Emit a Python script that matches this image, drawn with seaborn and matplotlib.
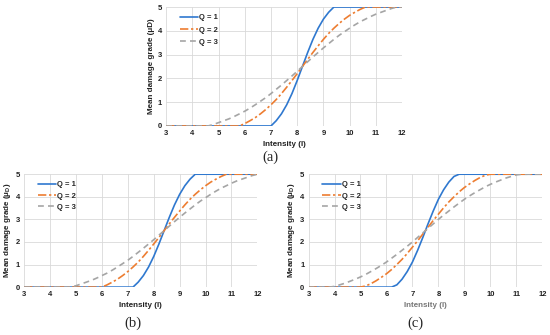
import numpy as np
import pandas as pd
import matplotlib
matplotlib.use("Agg")
import matplotlib.pyplot as plt
import seaborn as sns

# intensity grid (I) shared by all three panels
intensity = np.round(np.arange(3.0, 12.01, 0.2), 1)
q_labels = ['Q = 1', 'Q = 2', 'Q = 3']

# (a) mean damage grade
a_q1 = [0] * 21 + [0.22, 0.51, 0.89, 1.36, 1.91, 2.50, 3.09, 3.64, 4.11, 4.49, 4.78] + [5] * 14
a_q2 = [0] * 15 + [0.10, 0.22, 0.35, 0.51, 0.69, 0.89, 1.11, 1.36, 1.63, 1.91, 2.20, 2.50,
                   2.80, 3.09, 3.37, 3.64, 3.89, 4.11, 4.31, 4.49, 4.65, 4.78, 4.90] + [5] * 8
a_q3 = [0] * 9 + [0.06, 0.14, 0.22, 0.30, 0.40, 0.51, 0.62, 0.75, 0.89, 1.04, 1.19, 1.36,
                  1.54, 1.72, 1.91, 2.10, 2.30, 2.50, 2.70, 2.90, 3.09, 3.28, 3.46, 3.64,
                  3.81, 3.96, 4.11, 4.25, 4.38, 4.49, 4.60, 4.70, 4.78, 4.86, 4.94] + [5] * 2

# (b) bottom left
b_q1 = [0] * 22 + [0.22, 0.51, 0.89, 1.36, 1.91, 2.50, 3.09, 3.64, 4.11, 4.49, 4.78] + [5] * 13
b_q2 = [0] * 16 + [0.10, 0.22, 0.35, 0.51, 0.69, 0.89, 1.11, 1.36, 1.63, 1.91, 2.20, 2.50,
                   2.80, 3.09, 3.37, 3.64, 3.89, 4.11, 4.31, 4.49, 4.65, 4.78, 4.90] + [5] * 7
b_q3 = [0] * 10 + [0.06, 0.14, 0.22, 0.30, 0.40, 0.51, 0.62, 0.75, 0.89, 1.04, 1.19, 1.36,
                   1.54, 1.72, 1.91, 2.10, 2.30, 2.50, 2.70, 2.90, 3.09, 3.28, 3.46, 3.64,
                   3.81, 3.96, 4.11, 4.25, 4.38, 4.49, 4.60, 4.70, 4.78, 4.86, 4.94] + [5] * 1

# (c) bottom right
c_q1 = [0] * 17 + [0.10, 0.35, 0.69, 1.11, 1.63, 2.20, 2.80, 3.37, 3.89, 4.31, 4.65, 4.90] + [5] * 17
c_q2 = [0] * 11 + [0.05, 0.15, 0.28, 0.43, 0.59, 0.78, 1.00, 1.23, 1.49, 1.77, 2.05, 2.35,
                   2.65, 2.95, 3.23, 3.51, 3.77, 4.00, 4.22, 4.41, 4.57, 4.72, 4.85, 4.95] + [5] * 11
c_q3 = [0] * 5 + [0.03, 0.10, 0.17, 0.26, 0.35, 0.45, 0.56, 0.69, 0.82, 0.96, 1.11, 1.28,
                  1.45, 1.63, 1.81, 2.00, 2.20, 2.40, 2.60, 2.80, 3.00, 3.19, 3.37, 3.55,
                  3.72, 3.89, 4.04, 4.18, 4.31, 4.44, 4.55, 4.65, 4.74, 4.83, 4.90, 4.97] + [5] * 5

panels = [
    ('(a)', [a_q1, a_q2, a_q3], 'Mean damage grade (μD)', [0.302, 0.624, 0.429, 0.355], (0.491, 0.531), 0.65),
    ('(b)', [b_q1, b_q2, b_q3], 'Mean damage grade (μ$_\\mathregular{D}$)', [0.044, 0.143, 0.424, 0.337], (0.242, 0.036), 0.5),
    ('(c)', [c_q1, c_q2, c_q3], 'Mean damage grade (μ$_\\mathregular{D}$)', [0.561, 0.143, 0.425, 0.337], (0.755, 0.036), 0.5),
]

palette = {'Q = 1': '#2F78CF', 'Q = 2': '#ED7D31', 'Q = 3': '#A5A5A5'}
dashes = {'Q = 1': '', 'Q = 2': (5, 1.6, 1.4, 1.6), 'Q = 3': (3.5, 2.5)}

sns.set_theme(style='white')
plt.rcParams['font.family'] = ['Liberation Sans', 'DejaVu Sans']
plt.rcParams['mathtext.fontset'] = 'custom'
plt.rcParams['mathtext.rm'] = 'Liberation Sans:bold'

fig = plt.figure(figsize=(5.5, 3.35), dpi=100)

for tag, series, ylab, rect, tag_pos, spacing in panels:
    ax = fig.add_axes(rect)
    df = pd.DataFrame({
        'I': np.tile(intensity, 3),
        'mu': np.concatenate(series),
        'Q': np.repeat(q_labels, len(intensity)),
    })
    sns.lineplot(data=df, x='I', y='mu', hue='Q', style='Q',
                 palette=palette, dashes=dashes, linewidth=1.2, ax=ax)

    ax.set_xlim(3, 12)
    ax.set_ylim(0, 5)
    ax.set_xticks(range(3, 13))
    ax.set_yticks(range(0, 6))
    ax.grid(True, color='#D9D9D9', linewidth=0.6)
    ax.set_axisbelow(True)
    for s in ax.spines.values():
        s.set_visible(False)
    ax.tick_params(length=0, labelsize=5.5, pad=3, colors='#222222')
    for lab in ax.get_xticklabels() + ax.get_yticklabels():
        lab.set_fontweight('bold')

    xcol = '#777777' if tag == '(c)' else '#222222'
    ax.set_xlabel('Intensity (I)', fontsize=5.8, fontweight='bold', color=xcol, labelpad=3)
    ax.set_ylabel(ylab, fontsize=5.8, fontweight='bold', color='#222222', labelpad=2)

    leg = ax.legend(loc='upper left', frameon=False, fontsize=5.5, handlelength=2.4,
                    handletextpad=0.1, labelspacing=spacing, borderaxespad=0.5,
                    bbox_to_anchor=(0.03, 1.0))
    for t in leg.get_texts():
        t.set_fontweight('bold')

    fig.text(tag_pos[0], tag_pos[1], tag, family='Liberation Serif', fontsize=10.5,
             ha='center', va='center')

fig.savefig('out.png', dpi=100)
